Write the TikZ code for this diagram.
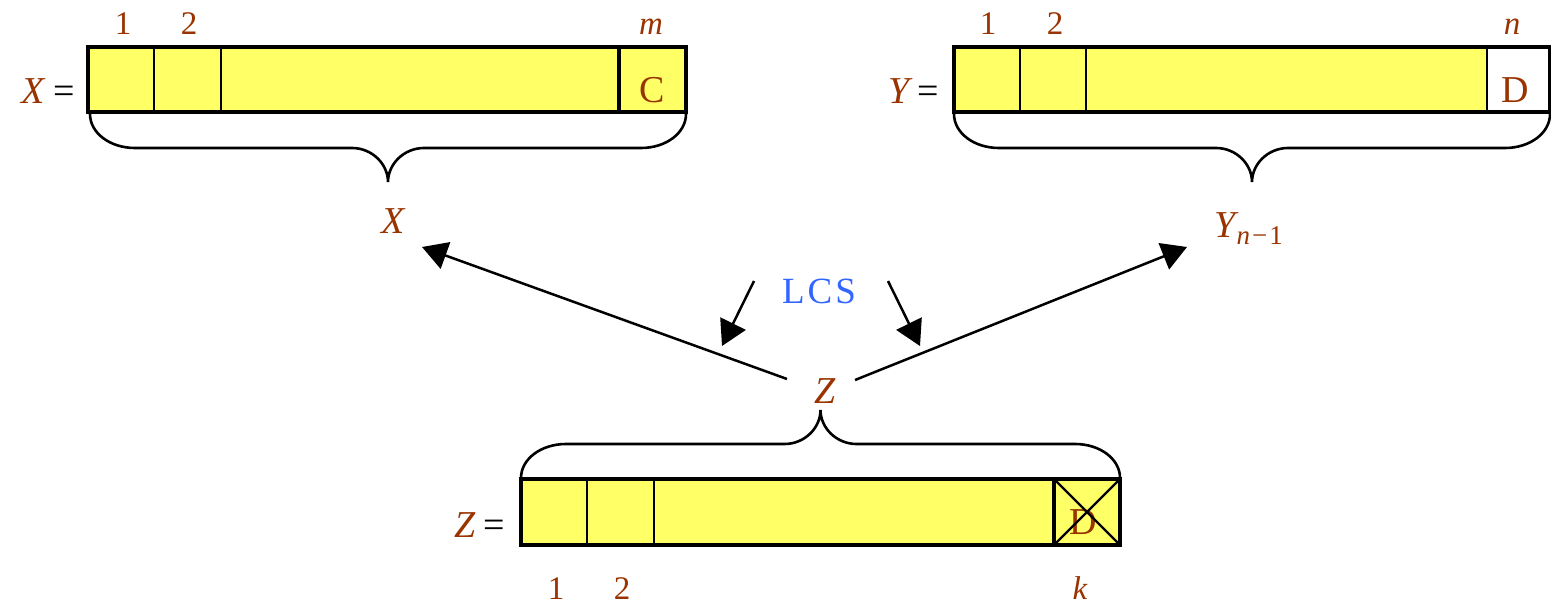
\documentclass[tikz,border=0pt]{standalone}
\usepackage{fontspec}
\setmainfont{Liberation Serif}
\usetikzlibrary{arrows.meta}
\definecolor{brn}{HTML}{993300}
\definecolor{lcsblue}{HTML}{3366FF}
\definecolor{cellyel}{HTML}{FFFF66}
\newcommand\mybrace[4]{% x0, y0, width, yscale
  \begin{scope}[shift={(#1,#2)},yscale=#4]
    \draw[brace] (0,0) .. controls (0,19) and (20,34) .. (45,34)
      -- ({#3/2-36},34) .. controls ({#3/2-16},34) and ({#3/2},50) .. ({#3/2},68)
      .. controls ({#3/2},50) and ({#3/2+16},34) .. ({#3/2+36},34)
      -- ({#3-45},34) .. controls ({#3-20},34) and (#3,19) .. (#3,0);
  \end{scope}}
\begin{document}
\begin{tikzpicture}[x=0.5pt,y=-0.5pt,
  lbl/.style={font=\fontsize{19}{21}\selectfont, inner sep=0pt, text=brn},
  eqlbl/.style={font=\fontsize{19}{21}\selectfont, inner sep=0pt, text=black, anchor=base east},
  idx/.style={font=\fontsize{16.5}{18}\selectfont, inner sep=0pt, text=brn, anchor=base},
  frame/.style={draw=black, line width=1.6pt},
  div/.style={line width=1.1pt},
  thickdiv/.style={line width=2.4pt},
  brace/.style={line width=1.3pt},
  bigarrow/.style={line width=1.25pt, -{Triangle[length=12.5pt,width=14pt]}},
]
\useasboundingbox (0,0) rectangle (1551,604);

% ---------- X array ----------
\fill[cellyel] (88,47) rectangle (686,112);
\draw[div] (154,47) -- (154,112);
\draw[div] (221,47) -- (221,112);
\draw[thickdiv] (619,47) -- (619,112);
\draw[frame] (88,47) rectangle (686,112);
\node[eqlbl] (Xeq) at (75,104) {\textcolor{brn}{\itshape X}\kern4pt=};
\node[lbl, anchor=base] (C) at (652,103) {C};
\node[idx] (x1) at (123,35) {1};
\node[idx] (x2) at (189,35) {2};
\node[idx] (xm) at (651,35) {\itshape m};
\mybrace{90}{114}{596}{1}
\node[lbl, anchor=base] (Xlbl) at (393,234) {\itshape X};

% ---------- Y array ----------
\fill[cellyel] (954,47) rectangle (1487,112);
\draw[div] (1020,47) -- (1020,112);
\draw[div] (1086,47) -- (1086,112);
\draw[div] (1487,47) -- (1487,112);
\draw[frame] (954,47) rectangle (1550,112);
\node[eqlbl] (Yeq) at (939,104) {\textcolor{brn}{\itshape Y}\kern4pt=};
\node[lbl, anchor=base] (D1) at (1515,103) {D};
\node[idx] (y1) at (988,35) {1};
\node[idx] (y2) at (1055,35) {2};
\node[idx] (yn) at (1512,35) {\itshape n};
\mybrace{954}{114}{596}{1}
\node[lbl, anchor=base west] (Ylbl) at (1214,237)
  {\itshape Y\kern0.5pt\raisebox{-3.5pt}{\fontsize{13.5}{14}\selectfont n\kern1pt\upshape −\kern1pt1}};

% ---------- Z array ----------
\fill[cellyel] (521,479) rectangle (1120,545);
\node[lbl, anchor=base] (D2) at (1083,534) {D};
\draw[div] (587,479) -- (587,545);
\draw[div] (654,479) -- (654,545);
\draw[thickdiv] (1054,479) -- (1054,545);
\draw[div] (1054,479) -- (1120,545);
\draw[div] (1054,545) -- (1120,479);
\draw[frame] (521,479) rectangle (1120,545);
\node[eqlbl] (Zeq) at (505,537) {\textcolor{brn}{\itshape Z}\kern4pt=};
\node[idx] (z1) at (556,599) {1};
\node[idx] (z2) at (622,599) {2};
\node[idx] (zk) at (1080,599) {\itshape k};
\mybrace{521}{478}{599}{-1}
\node[lbl, anchor=base] (Zlbl) at (825,403) {\itshape Z};

% ---------- LCS and arrows ----------
\node[font=\fontsize{18.5}{20}\selectfont, inner sep=0pt, text=lcsblue, anchor=base] (LCS) at (819,303)
  {L\kern1.5pt C\kern1.5pt S};
\coordinate (zL) at (787,379);
\coordinate (zR) at (855,380);
\coordinate (tipX) at (422,247);
\coordinate (tipY) at (1187,247);
\coordinate (sL0) at (754,281);
\coordinate (sL1) at (722,346);
\coordinate (sR0) at (888,281);
\coordinate (sR1) at (920,346);
\draw[bigarrow] (zL) -- (tipX);
\draw[bigarrow] (zR) -- (tipY);
\draw[bigarrow] (sL0) -- (sL1);
\draw[bigarrow] (sR0) -- (sR1);
\end{tikzpicture}
\end{document}
